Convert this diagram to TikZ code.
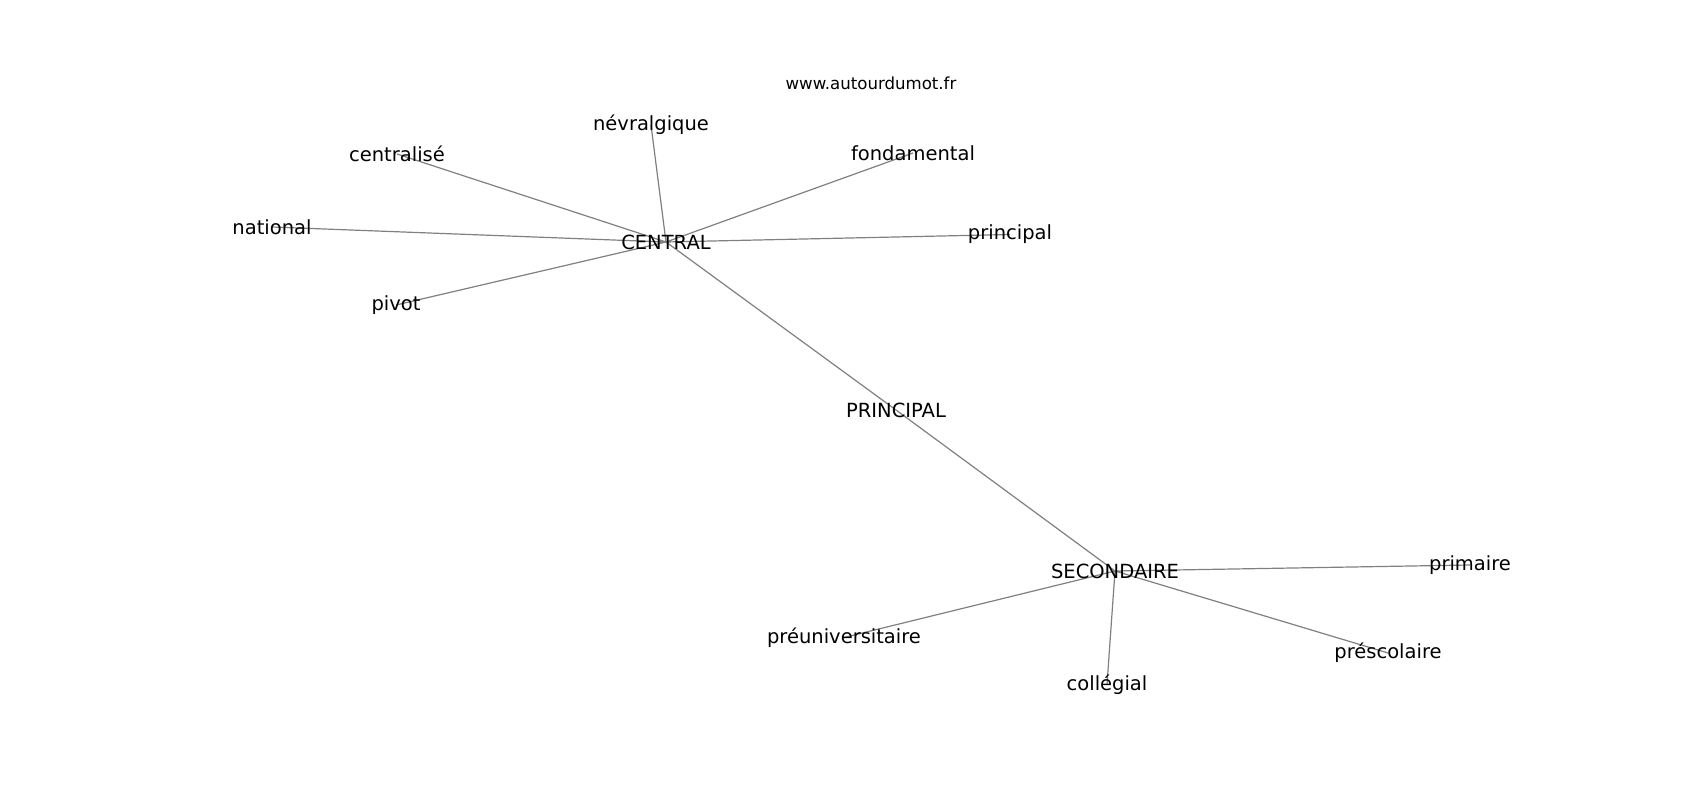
\documentclass[tikz,border=0pt]{standalone}
\usepackage{fontspec}
\setmainfont{DejaVu Sans}
\usetikzlibrary{backgrounds}
\begin{document}
\begin{tikzpicture}[x=1pt,y=-1pt,
  word/.style={inner sep=0pt,font=\fontsize{19.5pt}{23pt}\selectfont},
  edge/.style={draw=black!50,line width=1.2pt}]
\useasboundingbox (0,0) rectangle (1700,800);
\node[inner sep=0pt,font=\fontsize{16.6pt}{19pt}\selectfont] (title) at (871,83) {www.autourdumot.fr};
\node[word] (CEN) at (666,242) {CENTRAL};
\node[word] (SEC) at (1115,571) {SECONDAIRE};
\node[word] (nev) at (651,125) {névralgique};
\node[word] (cen) at (397,154) {centralisé};
\node[word] (fon) at (913,153) {fondamental};
\node[word] (nat) at (272,227) {national};
\node[word] (pri) at (1010,234.5) {principal};
\node[word] (piv) at (396,305) {pivot};
\node[word] (PR) at (896,410) {PRINCIPAL};
\node[word] (prm) at (1470,565) {primaire};
\node[word] (pru) at (844,637.5) {préuniversitaire};
\node[word] (prs) at (1388,653) {préscolaire};
\node[word] (col) at (1107,684.5) {collégial};
\begin{scope}[on background layer]
\fill[white] (0,0) rectangle (1700,800);
\path[edge] (CEN.center) -- (nev.center) (CEN.center) -- (cen.center)
  (CEN.center) -- (fon.center) (CEN.center) -- (nat.center)
  (CEN.center) -- (pri.center) (CEN.center) -- (piv.center)
  (CEN.center) -- (PR.center) -- (SEC.center)
  (SEC.center) -- (prm.center) (SEC.center) -- (pru.center)
  (SEC.center) -- (prs.center) (SEC.center) -- (col.center);
\end{scope}
\end{tikzpicture}
\end{document}
